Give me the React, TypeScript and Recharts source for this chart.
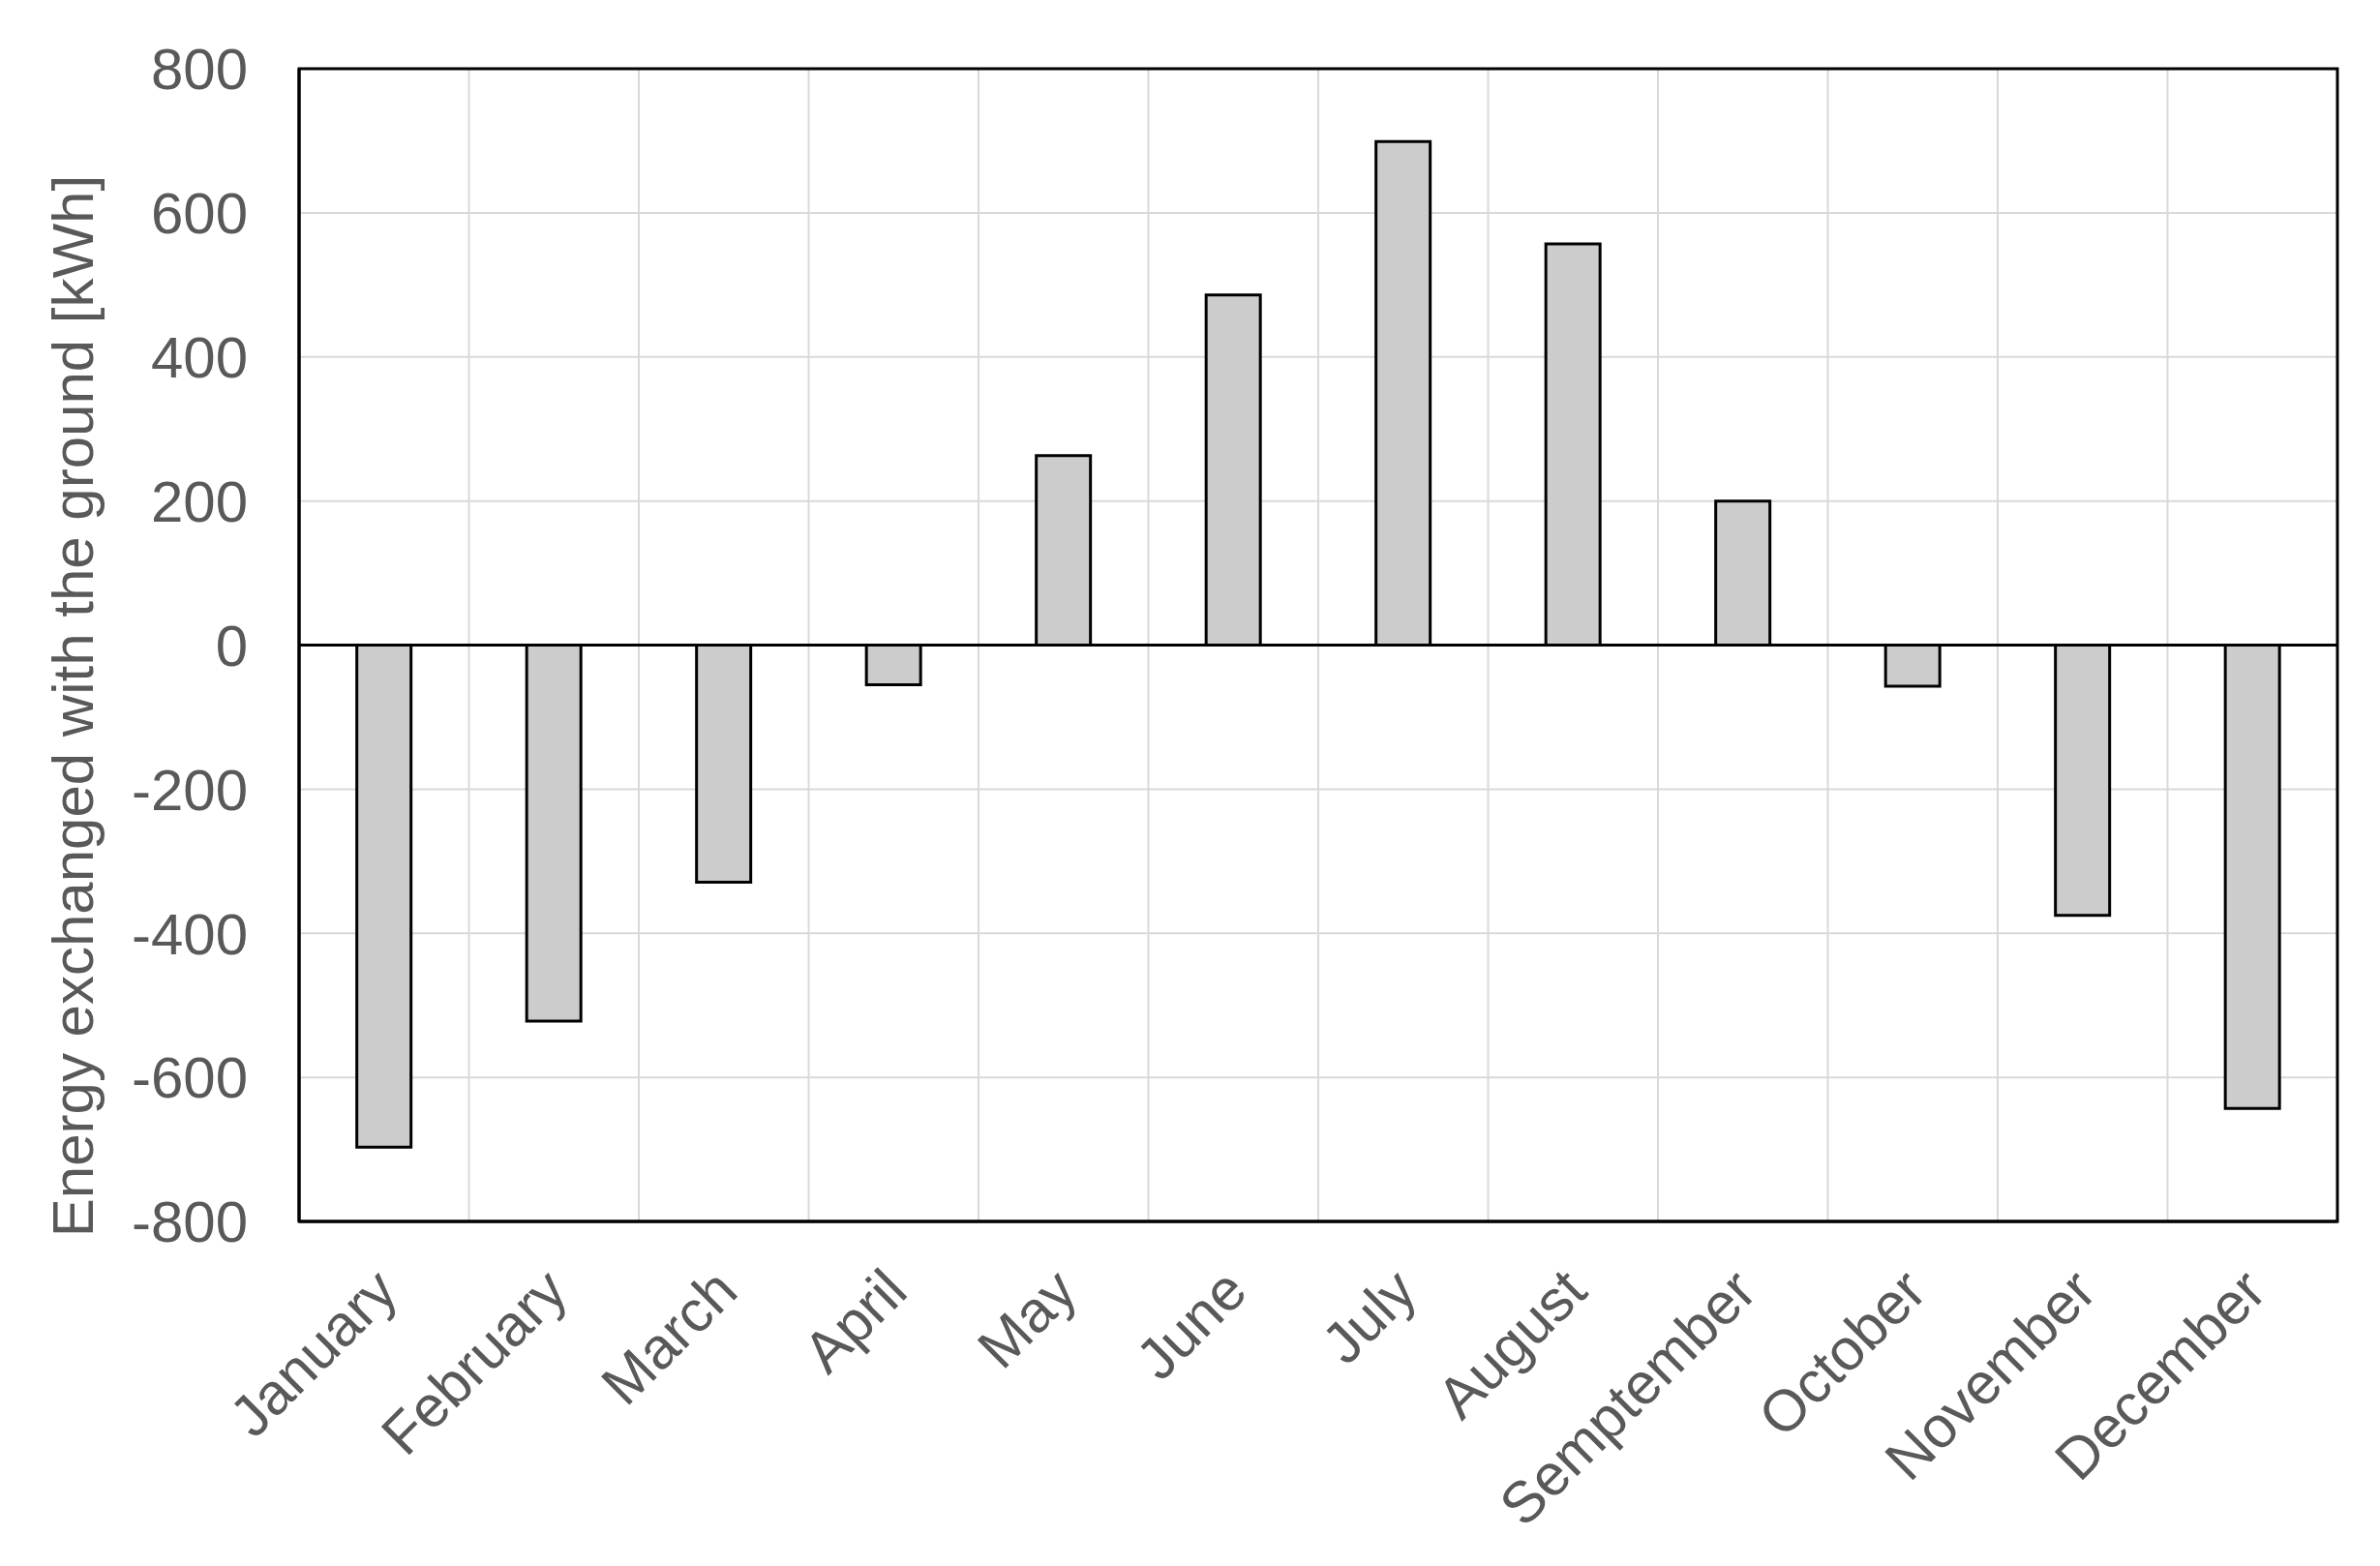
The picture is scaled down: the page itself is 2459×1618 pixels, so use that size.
import { BarChart, Bar, XAxis, YAxis, CartesianGrid, ReferenceLine, ReferenceArea } from 'recharts'

const months = ['January', 'February', 'March', 'April', 'May', 'June', 'July', 'August', 'Semptember', 'October', 'November', 'December']
const energy = [-697, -522, -329, -55, 263, 486, 699, 557, 200, -57, -375, -643]
const yTicks = [-800, -600, -400, -200, 0, 200, 400, 600, 800]

const data = months.map((m, i) => ({ month: m, energy: energy[i] }))

const FONT = '"Liberation Sans", Arial, sans-serif'
const TEXT = '#595959'

function MonthTick(props: any) {
  const { x, y, payload } = props
  const px = x + 17
  const py = y + 75
  return (
    <text
      x={px}
      y={py}
      transform={`rotate(-45, ${px}, ${py})`}
      textAnchor="end"
      fontFamily={FONT}
      fontSize={60}
      fill={TEXT}
    >
      {payload.value}
    </text>
  )
}

function AxisTitle(props: any) {
  const { viewBox } = props
  const cx = viewBox.x + 75
  const cy = viewBox.y + viewBox.height / 2 + 63
  return (
    <text
      x={cx}
      y={cy}
      transform={`rotate(-90, ${cx}, ${cy})`}
      textAnchor="middle"
      dominantBaseline="central"
      fontFamily={FONT}
      fontSize={60}
      fill={TEXT}
    >
      Energy exchanged with the ground [kWh]
    </text>
  )
}

export default function App() {
  return (
    <div style={{ position: 'absolute', left: 0, top: 0, background: '#fff' }}>
      <BarChart
        width={2459}
        height={1618}
        data={data}
        margin={{ top: 71, right: 44, left: 0, bottom: 0 }}
        barCategoryGap="34%"
      >
        <CartesianGrid
          stroke="#d9d9d9"
          strokeWidth={2}
          verticalCoordinatesGenerator={({ offset }: any) =>
            months.slice(1).map((_, i) => offset.left + ((i + 1) * offset.width) / months.length)
          }
        />
        <XAxis
          dataKey="month"
          interval={0}
          height={356}
          tickLine={false}
          tickSize={0}
          tickMargin={0}
          axisLine={{ stroke: '#000', strokeWidth: 3 }}
          tick={<MonthTick />}
        />
        <YAxis
          domain={[-800, 800]}
          ticks={yTicks}
          width={309}
          tickLine={false}
          tickSize={0}
          tickMargin={53}
          axisLine={{ stroke: '#000', strokeWidth: 3 }}
          tick={{ fontFamily: FONT, fontSize: 60, fill: TEXT }}
          label={<AxisTitle />}
        />
        {/* plot frame */}
        <ReferenceArea
          x1={months[0]}
          x2={months[months.length - 1]}
          y1={-800}
          y2={800}
          fill="none"
          fillOpacity={0}
          stroke="#000"
          strokeWidth={3}
        />
        <ReferenceLine y={0} stroke="#000" strokeWidth={3} />
        <Bar dataKey="energy" fill="#cccccc" stroke="#000" strokeWidth={3} isAnimationActive={false} />
      </BarChart>
    </div>
  )
}
